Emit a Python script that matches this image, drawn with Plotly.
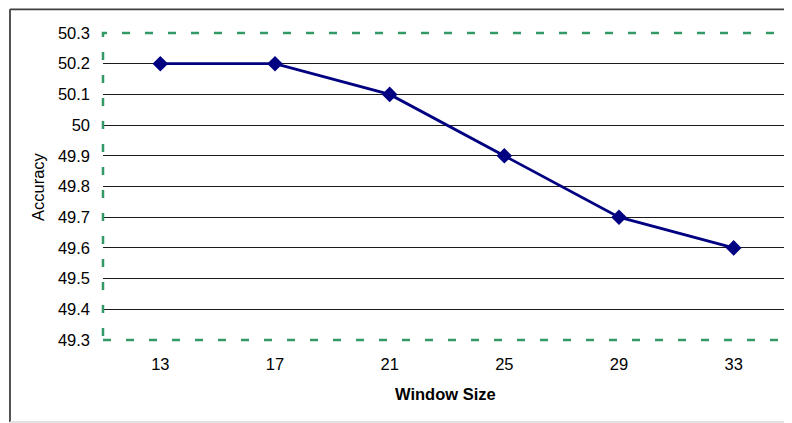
import plotly.graph_objects as go

window_sizes = ["13", "17", "21", "25", "29", "33"]
accuracy = [50.2, 50.2, 50.1, 49.9, 49.7, 49.6]
y_ticks = [49.3, 49.4, 49.5, 49.6, 49.7, 49.8, 49.9, 50.0, 50.1, 50.2, 50.3]
y_tick_labels = ["49.3", "49.4", "49.5", "49.6", "49.7", "49.8", "49.9", "50", "50.1", "50.2", "50.3"]

FONT = "Arial, Liberation Sans, sans-serif"
FS = 16.5

fig = go.Figure()
fig.add_trace(go.Scatter(
    x=window_sizes, y=accuracy, mode="lines+markers",
    line=dict(color="#000080", width=2.8),
    marker=dict(symbol="diamond", size=12, color="#000080"),
    showlegend=False,
))

fx0, fx1, fy0, fy1 = -0.1352, 1.1, -0.2675, 1.077

fig.update_layout(
    width=792, height=423,
    margin=dict(l=95, r=9, t=25, b=91),
    paper_bgcolor="white", plot_bgcolor="white",
    font=dict(family=FONT, size=FS, color="black"),
    xaxis=dict(
        type="category", range=[-0.5, 5.5],
        showgrid=False, zeroline=False, showline=False,
        ticks="", ticklabelstandoff=12,
        tickfont=dict(size=FS, family=FONT),
    ),
    yaxis=dict(
        range=[49.3, 50.3], tickvals=y_ticks, ticktext=y_tick_labels,
        showgrid=True, gridcolor="#1a1a1a", gridwidth=1.3,
        zeroline=False, showline=False, ticks="", ticklabelstandoff=12,
        tickfont=dict(size=FS, family=FONT),
    ),
    shapes=[
        dict(type="rect", xref="paper", yref="paper", x0=0, x1=1, y0=0, y1=1,
             line=dict(color="#339966", width=2.5, dash="8px,15px"), layer="above"),
        dict(type="line", xref="paper", yref="paper", x0=fx0, x1=fx0, y0=fy0, y1=fy1,
             line=dict(color="#404040", width=1.8), layer="below"),
        dict(type="line", xref="paper", yref="paper", x0=fx0, x1=fx1, y0=fy1, y1=fy1,
             line=dict(color="#404040", width=1.8), layer="below"),
        dict(type="line", xref="paper", yref="paper", x0=fx0, x1=fx1, y0=fy0, y1=fy0,
             line=dict(color="#d9d9d9", width=1.5), layer="below"),
    ],
    annotations=[
        dict(text="<b>Window Size</b>", xref="paper", yref="paper", x=0.4985, y=-0.176,
             showarrow=False, font=dict(size=FS, family=FONT, color="black"), yanchor="middle"),
        dict(text="Accuracy", xref="paper", yref="paper", x=-0.0945, y=0.5016, textangle=-90,
             showarrow=False, font=dict(size=FS, family=FONT, color="black"), xanchor="center",
             yanchor="middle"),
    ],
)

fig.write_html("out.html")
